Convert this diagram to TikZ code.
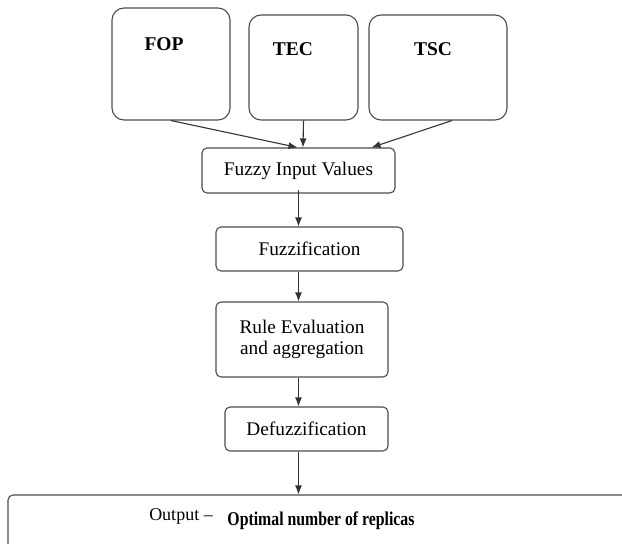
\documentclass[tikz,border=0pt]{standalone}
\usepackage{fontspec}
\setmainfont{Liberation Serif}
\newfontfamily\condfont[FakeStretch=0.81, Ligatures=TeX]{Liberation Serif}
\usetikzlibrary{positioning, arrows.meta}

\begin{document}
\begin{tikzpicture}[x=1pt, y=-1pt,
  cell/.style={rectangle, draw=black!70, line width=1.1pt, rounded corners=5pt, inner sep=0pt},
  inbox/.style={cell, rounded corners=12pt},
  tag/.style={font=\fontsize{19.5}{21}\selectfont\bfseries},
  txt/.style={font=\fontsize{19.3}{21}\selectfont, align=center},
  input/.style={-{Latex[length=9pt,width=7pt]}, line width=1.1pt, draw=black!80}]

\useasboundingbox (0,0) rectangle (622,544);
\clip (0,0) rectangle (622,544);

% three inputs
\node[inbox, minimum width=118, minimum height=112] at (171,64) (fop) {};
\node[inbox, minimum width=109, minimum height=105] at (303.5,67.5) (tec) {};
\node[inbox, minimum width=138, minimum height=105] at (438,67.5) (tsc) {};
\node[tag] at (164,44) (foplbl) {FOP};
\node[tag] at (293,49) (teclbl) {TEC};
\node[tag] at (433,49) (tsclbl) {TSC};

% fuzzy chain
\node[cell, minimum width=193, minimum height=45, txt] at (298.5,170.5) (fin) {Fuzzy Input Values};
\node[cell, minimum width=187, minimum height=44, txt] at (309.5,249) (fuzz) {Fuzzification};
\node[cell, minimum width=172, minimum height=75, txt] at (302,339.5) (rule) {Rule Evaluation\\and aggregation};
\node[cell, minimum width=163, minimum height=44, txt] at (306.5,429) (defuzz) {Defuzzification};

\node[cell, minimum width=632, minimum height=65] at (324,527.5) (out) {};
\node[txt, font=\fontsize{18}{20}\selectfont] at (181,516) (outlbl) {Output --};
\node[tag, font=\fontsize{19.5}{21}\selectfont\condfont\bfseries] at (321,521) (outval) {Optimal number of replicas};

\draw[input] (fop.south) -- ([xshift=-1]fin.north);
\draw[input] (tec.south) -- ([xshift=4.5]fin.north);
\draw[input] ([xshift=14]tsc.south) -- ([xshift=73]fin.north);

\draw[input] ([yshift=4]fin.south) -- (fin.south |- fuzz.north);
\draw[input] (fin.south |- fuzz.south) -- (fin.south |- rule.north);
\draw[input] (fin.south |- rule.south) -- (fin.south |- defuzz.north);
\draw[input] (fin.south |- defuzz.south) -- (fin.south |- out.north);
\end{tikzpicture}
\end{document}
